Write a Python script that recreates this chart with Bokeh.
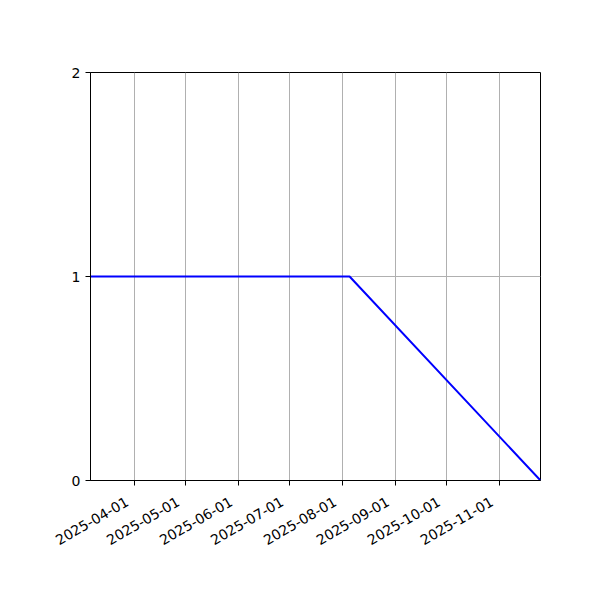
import math
import pandas as pd
from bokeh.plotting import figure
from bokeh.models import (Range1d, FixedTicker, DatetimeTickFormatter, ColumnDataSource,
                          DatetimeAxis, CustomLabelingPolicy)
from bokeh.embed import file_html
from bokeh.resources import INLINE

# data
dates = ["2025-03-06", "2025-08-05", "2025-11-25"]
values = [1, 1, 0]
x_ticks = ["2025-04-01", "2025-05-01", "2025-06-01", "2025-07-01",
           "2025-08-01", "2025-09-01", "2025-10-01", "2025-11-01"]
y_ticks = [0, 1, 2]

def ms(s):
    return pd.Timestamp(s).value / 1e6

src = ColumnDataSource(dict(x=pd.to_datetime(dates), y=values))

x0, x1 = ms(dates[0]), ms(dates[-1])
p = figure(x_axis_type="datetime", output_backend="svg", toolbar_location=None,
           frame_width=450, frame_height=408,
           min_border_left=90, min_border_top=72, min_border_right=44, min_border_bottom=104,
           x_range=Range1d(x0, x1), y_range=Range1d(0, 2))

p.line("x", "y", source=src, line_color="#0000ff", line_width=2)

tick_ms = [ms(t) for t in x_ticks]
fmt = "%Y-%m-%d"
def dfmt():
    return DatetimeTickFormatter(milliseconds=fmt, seconds=fmt, minsec=fmt, minutes=fmt,
                                 hourmin=fmt, hours=fmt, days=fmt, months=fmt, years=fmt)

# main x axis: tick marks only (labels drawn by the label axis below)
p.xaxis.ticker = FixedTicker(ticks=tick_ms)
p.xaxis.formatter = dfmt()
p.xaxis.major_label_policy = CustomLabelingPolicy(code="return new Set()")
p.xaxis.major_label_standoff = 0
p.yaxis.ticker = FixedTicker(ticks=y_ticks)

for ax in (p.xaxis, p.yaxis):
    ax.major_label_text_font = "DejaVu Sans"
    ax.major_label_text_font_size = "14px"
    ax.axis_line_color = "black"
    ax.major_tick_line_color = "black"
    ax.major_tick_out = 5
    ax.major_tick_in = 0
    ax.minor_tick_line_color = None
p.yaxis.major_label_text_color = "black"
p.yaxis.major_label_standoff = 5

# label axis on a slightly shifted range so the rotated labels end at their ticks
shift = 4.5 * 86400000
p.extra_x_ranges = {"lab": Range1d(x0 + shift, x1 + shift)}
lab = DatetimeAxis(x_range_name="lab", ticker=FixedTicker(ticks=tick_ms), formatter=dfmt(),
                   major_label_orientation=math.pi / 6, axis_line_color=None,
                   major_tick_line_color=None, major_tick_in=0, major_tick_out=0,
                   minor_tick_line_color=None, major_label_standoff=2,
                   major_label_text_font="DejaVu Sans", major_label_text_font_size="14px",
                   major_label_text_color="black")
p.add_layout(lab, "below")

p.grid.grid_line_color = "#b0b0b0"
p.grid.grid_line_width = 1
p.outline_line_color = "black"
p.outline_line_width = 1
p.outline_line_alpha = 1
p.background_fill_color = "white"
p.border_fill_color = "white"

open("out.html", "w").write(file_html(p, INLINE))
